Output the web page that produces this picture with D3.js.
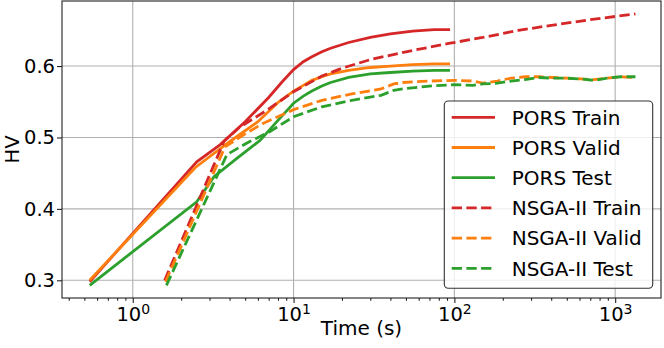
<!DOCTYPE html>
<html>
<head>
<meta charset="utf-8">
<script src="https://cdn.jsdelivr.net/npm/d3@7"></script>
<style>
  body { margin: 0; background: #fff; }
  svg { display: block; font-family: "DejaVu Sans", sans-serif; }
</style>
</head>
<body>
<div id="chart"></div>
<script>
// data: time (s) and HV per curve
const porsTrainT = [0.54, 2.5, 3.5, 5, 7, 8.5, 10, 11.5, 13, 15, 17, 22, 30, 40, 55, 75, 94];
const porsTrainV = [0.298, 0.466, 0.490, 0.522, 0.556, 0.578, 0.595, 0.606, 0.613, 0.620, 0.625, 0.633, 0.640, 0.645, 0.649, 0.651, 0.651];

const porsValidT = [0.54, 2.45, 4, 6, 8, 10, 11.5, 13, 15, 17, 22, 30, 40, 55, 75, 94];
const porsValidV = [0.300, 0.458, 0.494, 0.522, 0.549, 0.565, 0.573, 0.580, 0.585, 0.589, 0.594, 0.598, 0.600, 0.602, 0.603, 0.603];

const porsTestT = [0.54, 2.5, 3.2, 4.4, 6.2, 8, 10, 11.5, 13, 15, 17, 22, 30, 40, 55, 75, 94];
const porsTestV = [0.293, 0.410, 0.445, 0.470, 0.496, 0.524, 0.548, 0.558, 0.565, 0.572, 0.577, 0.584, 0.589, 0.591, 0.593, 0.594, 0.594];

const nsTrainT = [1.58, 3.7, 4.6, 6.8, 10, 15, 20, 30, 50, 94, 150, 250, 400, 700, 1337];
const nsTrainV = [0.300, 0.495, 0.514, 0.538, 0.564, 0.586, 0.597, 0.609, 0.620, 0.632, 0.640, 0.650, 0.657, 0.665, 0.673];

const nsValidT = [1.6, 3.75, 5, 6.5, 10, 15, 23, 35, 42, 48, 70, 100, 130, 150, 185, 225, 275, 335, 410, 500, 610, 735, 890, 1080, 1337];
const nsValidV = [0.298, 0.487, 0.505, 0.520, 0.539, 0.552, 0.561, 0.568, 0.575, 0.577, 0.579, 0.580, 0.579, 0.576, 0.579, 0.583, 0.585, 0.585, 0.584, 0.583, 0.582, 0.581, 0.583, 0.585, 0.584];

const nsTestT = [1.62, 3.85, 5.1, 7.1, 10, 15, 23, 35, 42, 48, 70, 100, 130, 150, 185, 225, 275, 335, 410, 500, 610, 735, 890, 1080, 1337];
const nsTestV = [0.293, 0.476, 0.492, 0.508, 0.529, 0.543, 0.552, 0.559, 0.566, 0.568, 0.572, 0.574, 0.573, 0.575, 0.576, 0.579, 0.581, 0.584, 0.583, 0.583, 0.582, 0.580, 0.583, 0.585, 0.585];

const seriesNames = ["PORS Train", "PORS Valid", "PORS Test", "NSGA-II Train", "NSGA-II Valid", "NSGA-II Test"];
const xTicks = [1, 10, 100, 1000];
const yTicks = [0.3, 0.4, 0.5, 0.6];

const colors = ["#d62728", "#ff7f0e", "#2ca02c"];
const series = [
  [porsTrainT, porsTrainV], [porsValidT, porsValidV], [porsTestT, porsTestV],
  [nsTrainT, nsTrainV], [nsValidT, nsValidV], [nsTestT, nsTestV]
].map((s, i) => ({
  name: seriesNames[i],
  color: colors[i % 3],
  dashed: i >= 3,
  pts: s[0].map((t, j) => [t, s[1][j]])
}));

const W = 664, H = 348;
const m = { left: 62, right: 3, top: 1, bottom: 50 };
const fs = 19.5, fsLabel = 20;

const svg = d3.select("#chart").append("svg").attr("width", W).attr("height", H);

const x = d3.scaleLog().domain([Math.pow(10, -0.44), Math.pow(10, 3.285)]).range([m.left, W - m.right]);
const y = d3.scaleLinear().domain([0.2752, 0.6911]).range([H - m.bottom, m.top]);

// grid
svg.append("g").selectAll("line").data(xTicks).join("line")
  .attr("x1", d => x(d)).attr("x2", d => x(d))
  .attr("y1", m.top).attr("y2", H - m.bottom)
  .attr("stroke", "#b0b0b0").attr("stroke-width", 1.1);
svg.append("g").selectAll("line").data(yTicks).join("line")
  .attr("x1", m.left).attr("x2", W - m.right)
  .attr("y1", d => y(d)).attr("y2", d => y(d))
  .attr("stroke", "#b0b0b0").attr("stroke-width", 1.1);

// curves
svg.append("clipPath").attr("id", "clip").append("rect")
  .attr("x", m.left).attr("y", m.top).attr("width", W - m.left - m.right).attr("height", H - m.top - m.bottom);

const line = d3.line().x(d => x(d[0])).y(d => y(d[1]));
svg.append("g").attr("clip-path", "url(#clip)")
  .selectAll("path").data(series).join("path")
  .attr("d", d => line(d.pts))
  .attr("fill", "none")
  .attr("stroke", d => d.color)
  .attr("stroke-width", 2.8)
  .attr("stroke-dasharray", d => d.dashed ? "10.3,4.4" : null);

// axes
const minor = [];
[0.1, 1, 10, 100, 1000].forEach(b => { for (let k = 2; k <= 9; k++) minor.push(b * k); });
const minorIn = minor.filter(v => v > x.domain()[0] && v < x.domain()[1]);

const gx = svg.append("g").attr("transform", `translate(0,${H - m.bottom})`)
  .call(d3.axisBottom(x).tickValues(xTicks).tickSize(5).tickPadding(4).tickFormat(() => "10"));
const gxm = svg.append("g").attr("transform", `translate(0,${H - m.bottom})`)
  .call(d3.axisBottom(x).tickValues(minorIn).tickSize(2.8).tickFormat(""));
gxm.select(".domain").remove();
gx.selectAll(".tick text").each(function (d) {
  d3.select(this).append("tspan").attr("dy", "-0.5em").attr("font-size", 14).text(Math.round(Math.log10(d)));
});

const gy = svg.append("g").attr("transform", `translate(${m.left},0)`)
  .call(d3.axisLeft(y).tickValues(yTicks).tickSize(5).tickPadding(2).tickFormat(d3.format(".1f")));

[gx, gxm, gy].forEach(g => {
  g.selectAll(".tick line").attr("stroke", "#222").attr("stroke-width", 1.1);
  g.selectAll("text").attr("fill", "#000").attr("font-size", fs).attr("font-family", "DejaVu Sans");
  g.select(".domain").remove();
});

// frame
svg.append("rect").attr("x", m.left).attr("y", m.top)
  .attr("width", W - m.left - m.right).attr("height", H - m.top - m.bottom)
  .attr("fill", "none").attr("stroke", "#222").attr("stroke-width", 1.1);

// axis labels
svg.append("text").attr("x", (m.left + W - m.right) / 2).attr("y", 335)
  .attr("text-anchor", "middle").attr("font-size", fsLabel).text("Time (s)");
svg.append("text").attr("transform", `translate(18.6,${(m.top + H - m.bottom) / 2}) rotate(-90)`)
  .attr("text-anchor", "middle").attr("font-size", fs).text("HV");

// legend
const lg = svg.append("g");
lg.append("rect").attr("x", 444.3).attr("y", 101).attr("width", 208.4).attr("height", 187.3)
  .attr("rx", 4).attr("fill", "#fff").attr("fill-opacity", 0.8)
  .attr("stroke", "#333").attr("stroke-width", 1.1);
const items = lg.selectAll("g.item").data(series).join("g").attr("class", "item")
  .attr("transform", (d, i) => `translate(0,${117.3 + i * 30.2})`);
items.append("line").attr("x1", 451.7).attr("x2", 495)
  .attr("stroke", d => d.color).attr("stroke-width", 2.8)
  .attr("stroke-dasharray", d => d.dashed ? "10.3,4.4" : null);
items.append("text").attr("x", 511.7).attr("dy", "0.36em").attr("font-size", fsLabel).text(d => d.name);
</script>
</body>
</html>
